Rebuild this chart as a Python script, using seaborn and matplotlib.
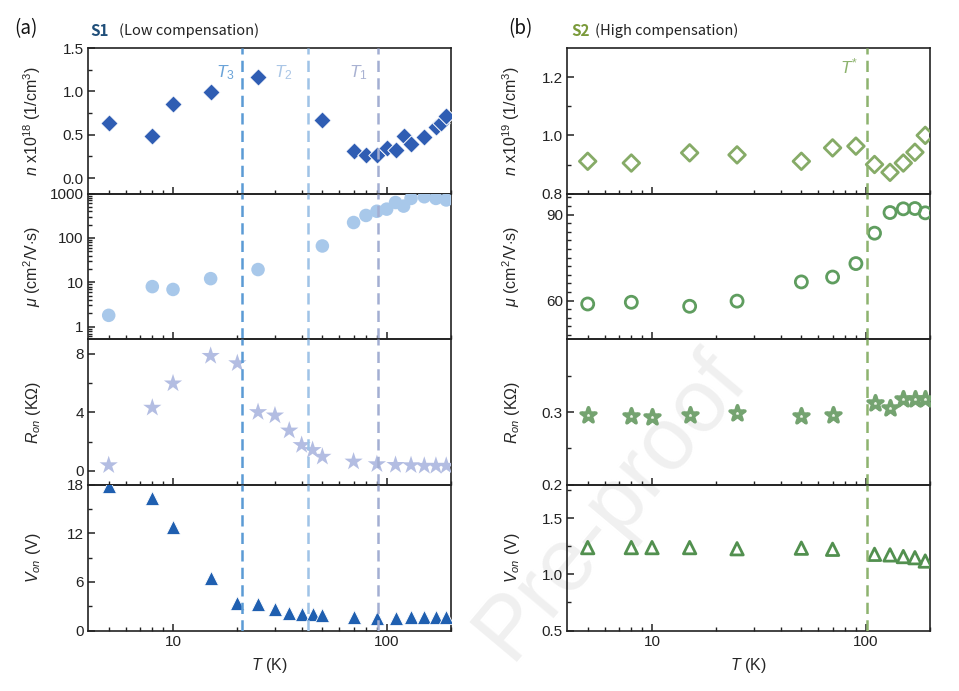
import numpy as np
import pandas as pd
import matplotlib
matplotlib.use("Agg")
import matplotlib.pyplot as plt
import matplotlib.ticker as mticker
import seaborn as sns

# ---------------- data ----------------
# Sample S1 (low compensation)
n1_T = [5, 8, 10, 15, 25, 50, 70, 80, 90, 100, 110, 120, 130, 150, 170, 180, 190]
n1 = [0.64, 0.48, 0.85, 0.99, 1.17, 0.67, 0.31, 0.27, 0.27, 0.35, 0.32, 0.48, 0.39, 0.47, 0.59, 0.63, 0.72]

mu1_T = [5, 8, 10, 15, 25, 50, 70, 80, 90, 100, 110, 120, 130, 150, 170, 190]
mu1 = [1.8, 8.0, 6.9, 12.1, 19.4, 66, 223, 322, 400, 447, 630, 523, 780, 850, 780, 720]

R1_T = [5, 8, 10, 15, 20, 25, 30, 35, 40, 45, 50, 70, 90, 110, 130, 150, 170, 190]
R1 = [0.39, 4.32, 5.98, 7.86, 7.36, 4.02, 3.79, 2.76, 1.77, 1.43, 0.97, 0.64, 0.46, 0.41, 0.39, 0.35, 0.35, 0.35]

V1_T = [5, 8, 10, 15, 20, 25, 30, 35, 40, 45, 50, 70, 90, 110, 130, 150, 170, 190]
V1 = [17.9, 16.4, 12.8, 6.5, 3.4, 3.3, 2.6, 2.2, 2.1, 2.0, 1.9, 1.7, 1.5, 1.6, 1.65, 1.65, 1.65, 1.65]

T_lines_1 = [21, 43, 91]
T_names_1 = ["$T_3$", "$T_2$", "$T_1$"]
T_label_x_1 = [17.5, 32.7, 74]

# Sample S2 (high compensation)
n2_T = [5, 8, 15, 25, 50, 70, 90, 110, 130, 150, 170, 190]
n2 = [0.911, 0.905, 0.94, 0.933, 0.911, 0.957, 0.963, 0.90, 0.873, 0.905, 0.942, 1.0]

mu2_T = [5, 8, 15, 25, 50, 70, 90, 110, 130, 150, 170, 190]
mu2 = [58.8, 59.4, 58.0, 59.8, 66.5, 68.2, 72.9, 83.5, 90.7, 92.0, 92.1, 90.6]

R2_T = [5, 8, 10, 15, 25, 50, 70, 110, 130, 150, 170, 190]
R2 = [0.296, 0.294, 0.293, 0.296, 0.299, 0.294, 0.296, 0.312, 0.306, 0.318, 0.318, 0.318]

V2_T = [5, 8, 10, 15, 25, 50, 70, 110, 130, 150, 170, 190]
V2 = [1.24, 1.24, 1.24, 1.24, 1.23, 1.235, 1.225, 1.18, 1.175, 1.16, 1.15, 1.12]

T_line_2 = 101
T_name_2 = "$T^{*}$"
T_label_x_2 = 84

# ---------------- style ----------------
sns.set_theme(style="ticks")
plt.rcParams["font.family"] = ["Liberation Sans", "DejaVu Sans"]
plt.rcParams["mathtext.fontset"] = "custom"
plt.rcParams["mathtext.rm"] = "Liberation Sans"
plt.rcParams["mathtext.it"] = "Liberation Sans:italic"
plt.rcParams["mathtext.bf"] = "Liberation Sans:bold"
plt.rcParams["axes.linewidth"] = 1.2
plt.rcParams["axes.edgecolor"] = "#222222"

fig = plt.figure(figsize=(9.59, 6.91), dpi=100)

W, H = 959.0, 691.0
left_x = [88, 567]
ax_w = 363
top_y = 48
bot_y = 630.5
row_h = (bot_y - top_y) / 4

axes = {}
for c in range(2):
    for r in range(4):
        rect = [left_x[c] / W, 1 - (top_y + (r + 1) * row_h) / H, ax_w / W, row_h / H]
        ax = fig.add_axes(rect)
        ax.set_facecolor("none")
        axes[(c, r)] = ax

TICK_FS = 11
LAB_FS = 11.5

# colors
c_n1 = "#2f5db3"
c_mu1 = "#a8c8ea"
c_R1 = "#b3bde2"
c_V1 = "#1f5fb0"
c_lines1 = ["#5b9bd5", "#9fc3e7", "#a3aed2"]
c_lab1 = ["#6aa3d8", "#aac6e6", "#a9b2d2"]

c_n2 = "#86ab67"
c_mu2 = "#5f9d5f"
c_R2 = "#74a370"
c_V2 = "#52904f"
c_line2 = "#8db36e"

# ---------------- left column ----------------
ax = axes[(0, 0)]
sns.scatterplot(x=n1_T, y=n1, ax=ax, marker="D", s=78, color=c_n1, edgecolor="white", linewidth=0.7, zorder=3)
ax.set_ylim(-0.18, 1.5)
ax.yaxis.set_major_locator(mticker.FixedLocator([0.0, 0.5, 1.0, 1.5]))
ax.yaxis.set_major_formatter(mticker.FormatStrFormatter("%.1f"))
ax.yaxis.set_minor_locator(mticker.FixedLocator([0.25, 0.75, 1.25]))
ax.set_ylabel("$n$ x10$^{18}$ (1/cm$^3$)", fontsize=LAB_FS)

ax = axes[(0, 1)]
sns.scatterplot(x=mu1_T, y=mu1, ax=ax, marker="o", s=95, color=c_mu1, edgecolor="none", linewidth=0, zorder=3)
ax.set_yscale("log")
ax.set_ylim(0.52, 1000)
ax.yaxis.set_major_locator(mticker.FixedLocator([1, 10, 100, 1000]))
ax.yaxis.set_major_formatter(mticker.FixedFormatter(["1", "10", "100", "1000"]))
ax.yaxis.set_minor_locator(mticker.LogLocator(base=10, subs=np.arange(2, 10) * 1.0, numticks=20))
ax.yaxis.set_minor_formatter(mticker.NullFormatter())
ax.set_ylabel("$\\mu$ (cm$^2$/V$\\cdot$s)", fontsize=LAB_FS)

ax = axes[(0, 2)]
sns.scatterplot(x=R1_T, y=R1, ax=ax, marker="*", s=190, color=c_R1, edgecolor="none", linewidth=0, zorder=3)
ax.set_ylim(-0.95, 9)
ax.yaxis.set_major_locator(mticker.FixedLocator([0, 4, 8]))
ax.yaxis.set_minor_locator(mticker.FixedLocator([2, 6]))
ax.set_ylabel("$R_{on}$ (K\u03a9)", fontsize=LAB_FS)

ax = axes[(0, 3)]
sns.scatterplot(x=V1_T, y=V1, ax=ax, marker="^", s=105, color=c_V1, edgecolor="white", linewidth=0.6, zorder=3)
ax.set_ylim(0, 18)
ax.yaxis.set_major_locator(mticker.FixedLocator([0, 6, 12, 18]))
ax.yaxis.set_minor_locator(mticker.FixedLocator([3, 9, 15]))
ax.set_ylabel("$V_{on}$ (V)", fontsize=LAB_FS)

# ---------------- right column ----------------
ax = axes[(1, 0)]
sns.scatterplot(x=n2_T, y=n2, ax=ax, marker="D", s=72, facecolor="none", edgecolor=c_n2, linewidth=2.0, zorder=3)
ax.set_ylim(0.8, 1.3)
ax.yaxis.set_major_locator(mticker.FixedLocator([0.8, 1.0, 1.2]))
ax.yaxis.set_major_formatter(mticker.FormatStrFormatter("%.1f"))
ax.yaxis.set_minor_locator(mticker.FixedLocator([0.9, 1.1]))
ax.set_ylabel("$n$ x10$^{19}$ (1/cm$^3$)", fontsize=LAB_FS)

ax = axes[(1, 1)]
sns.scatterplot(x=mu2_T, y=mu2, ax=ax, marker="o", s=75, facecolor="none", edgecolor=c_mu2, linewidth=2.0, zorder=3)
ax.set_ylim(46.5, 97.3)
ax.yaxis.set_major_locator(mticker.FixedLocator([60, 90]))
ax.yaxis.set_minor_locator(mticker.MultipleLocator(3))
ax.set_ylabel("$\\mu$ (cm$^2$/V$\\cdot$s)", fontsize=LAB_FS)

ax = axes[(1, 2)]
sns.scatterplot(x=R2_T, y=R2, ax=ax, marker="*", s=125, facecolor="#eef5ea", edgecolor=c_R2, linewidth=2.6, zorder=3)
ax.set_ylim(0.2, 0.4)
ax.yaxis.set_major_locator(mticker.FixedLocator([0.2, 0.3]))
ax.yaxis.set_major_formatter(mticker.FormatStrFormatter("%.1f"))
ax.yaxis.set_minor_locator(mticker.FixedLocator([0.25, 0.35]))
ax.set_ylabel("$R_{on}$ (K\u03a9)", fontsize=LAB_FS)

ax = axes[(1, 3)]
sns.scatterplot(x=V2_T, y=V2, ax=ax, marker="^", s=80, facecolor="none", edgecolor=c_V2, linewidth=2.0, zorder=3)
ax.set_ylim(0.5, 1.8)
ax.yaxis.set_major_locator(mticker.FixedLocator([0.5, 1.0, 1.5]))
ax.yaxis.set_major_formatter(mticker.FormatStrFormatter("%.1f"))
ax.yaxis.set_minor_locator(mticker.FixedLocator([0.75, 1.25, 1.75]))
ax.set_ylabel("$V_{on}$ (V)", fontsize=LAB_FS)

# ---------------- common axis formatting ----------------
for (c, r), ax in axes.items():
    ax.set_xscale("log")
    ax.set_xlim(4, 200)
    ax.xaxis.set_major_locator(mticker.FixedLocator([10, 100]))
    ax.xaxis.set_major_formatter(mticker.FixedFormatter(["10", "100"]))
    ax.xaxis.set_minor_locator(mticker.FixedLocator([5, 6, 7, 8, 9, 20, 30, 40, 50, 60, 70, 80, 90, 200]))
    ax.xaxis.set_minor_formatter(mticker.NullFormatter())
    ax.tick_params(axis="both", which="major", direction="in", length=5, width=1.1,
                   labelsize=TICK_FS, colors="#222222", labelcolor="#222222", pad=3)
    ax.tick_params(axis="both", which="minor", direction="in", length=3, width=1.0, colors="#222222")
    ax.tick_params(top=False, right=False, which="both")
    if r < 3:
        ax.tick_params(labelbottom=False)
        ax.set_xlabel("")
    else:
        ax.set_xlabel("$T$ (K)", fontsize=LAB_FS, labelpad=5)
    ax.yaxis.set_label_coords(-0.125, 0.5)
    for sp in ax.spines.values():
        sp.set_visible(True)
        sp.set_linewidth(1.2)
    if ax.get_legend() is not None:
        ax.get_legend().remove()

# ---------------- dashed temperature lines ----------------
for r in range(4):
    ax = axes[(0, r)]
    for xv, col in zip(T_lines_1, c_lines1):
        ax.axvline(xv, color=col, lw=1.8, ls=(0, (4.5, 2.5)), zorder=4)
    ax = axes[(1, r)]
    ax.axvline(T_line_2, color=c_line2, lw=1.8, ls=(0, (4.5, 2.5)), zorder=4)

ax = axes[(0, 0)]
for xl, name, col in zip(T_label_x_1, T_names_1, c_lab1):
    ax.text(xl, 1.22, name, color=col, fontsize=12.5, ha="center", va="center", zorder=5)
axes[(1, 0)].text(T_label_x_2, 1.236, T_name_2, color=c_line2, fontsize=12.5, ha="center", va="center", zorder=5)

# ---------------- titles ----------------
title_font = ["Noto Sans CJK KR", "DejaVu Sans"]
fig.text(14 / W, 1 - 29 / H, "(a)", fontsize=13.5, ha="left", va="center", family=title_font, color="#111111")
fig.text(90 / W, 1 - 31 / H, "S1", fontsize=11, fontweight="bold", ha="left", va="center", family=title_font, color="#1f4e79")
fig.text(119 / W, 1 - 31 / H, "(Low compensation)", fontsize=10.5, ha="left", va="center", family=title_font, color="#222222")
fig.text(508 / W, 1 - 29 / H, "(b)", fontsize=13.5, ha="left", va="center", family=title_font, color="#111111")
fig.text(571 / W, 1 - 31 / H, "S2", fontsize=11, fontweight="bold", ha="left", va="center", family=title_font, color="#7a9a3a")
fig.text(595 / W, 1 - 31 / H, "(High compensation)", fontsize=10.5, ha="left", va="center", family=title_font, color="#222222")

# ---------------- watermark ----------------
fig.text(612 / W, 1 - 505 / H, "Pre-proof", fontsize=64, rotation=50, ha="center", va="center",
         color="#f0f0f0", zorder=-5, family=["Liberation Sans", "DejaVu Sans"])

fig.savefig("out.png", dpi=100)
